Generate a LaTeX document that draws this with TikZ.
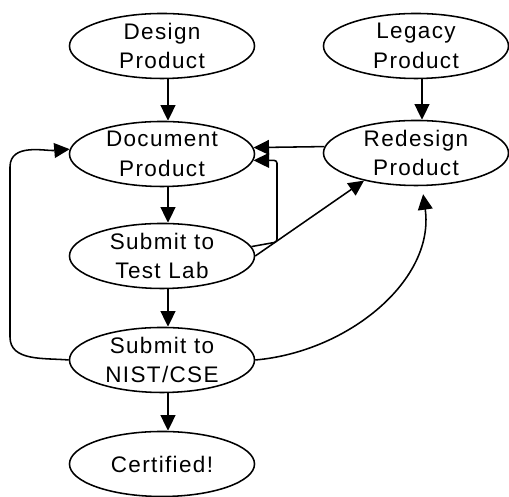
\documentclass[tikz,border=0pt]{standalone}
\usepackage{fontspec}
\setmainfont{Liberation Sans}[LetterSpace=6]
\usetikzlibrary{shapes}
\usetikzlibrary{arrows.meta}
\tikzset{
    procnode/.style = {ellipse, line width=1.1pt, draw=black, minimum width=4.625cm, minimum height=1.625cm, inner sep=0pt},
    proctext/.style = {align=center, inner sep=0pt, font=\fontsize{16}{21}\selectfont},
    edgen/.style = {-{Triangle[length=11pt,width=10.5pt]}, line width=1.1pt},
    edgeo/.style = {edgen, rounded corners=2pt}, % feedback
}

\begin{document}
\begin{tikzpicture}[x=0.025cm, y=0.025cm]
\useasboundingbox (0,0) rectangle (509,497);
%
\node[procnode, label={[proctext]center:Design\\Product}] at (162, 451) (dp) {};
\node[procnode, label={[proctext]center:Legacy\\Product}] at (416, 451) (lp) {};
\node[procnode, label={[proctext]center:Document\\Product}] at (162, 343) (doc) {};
\node[procnode, label={[proctext]center:Redesign\\Product}] at (416, 344) (rp) {};
\node[procnode, label={[proctext]center:Submit to\\Test Lab}] at (162, 241) (tl) {};
\node[procnode, label={[proctext]center:Submit to\\NIST/CSE}] at (162, 137) (nist) {};
\node[procnode, label={[proctext]center:Certified!}] at (162, 33) (cert) {};
%
\draw[edgen] ([xshift=0.15cm]dp.south) -- ([xshift=0.15cm]doc.north);
\draw[edgen] ([xshift=0.15cm]lp.south) -- ([xshift=0.15cm]rp.north);
\draw[edgen] ([xshift=0.15cm]doc.south) -- ([xshift=0.15cm]tl.north);
\draw[edgen] ([xshift=0.15cm]tl.south) -- ([xshift=0.15cm]nist.north);
\draw[edgen] ([xshift=0.15cm]nist.south) -- ([xshift=0.15cm]cert.north);
\draw[edgen] (rp.176) -- (doc.4.5);
\draw[edgeo] (tl.6) -- (277, 255) |- (doc.-4.5);
\draw[edgen] (tl.east) -- (rp.208);
\draw[edgen, shorten >=0.2cm] (nist.east) to[out=5, in=-82] ([xshift=0.15cm]rp.south);
\draw[edgen] (nist.west) to[out=175, in=-90] (10, 160) -- (10, 330) to[out=90, in=185] (doc.177);

\end{tikzpicture}
\end{document}
